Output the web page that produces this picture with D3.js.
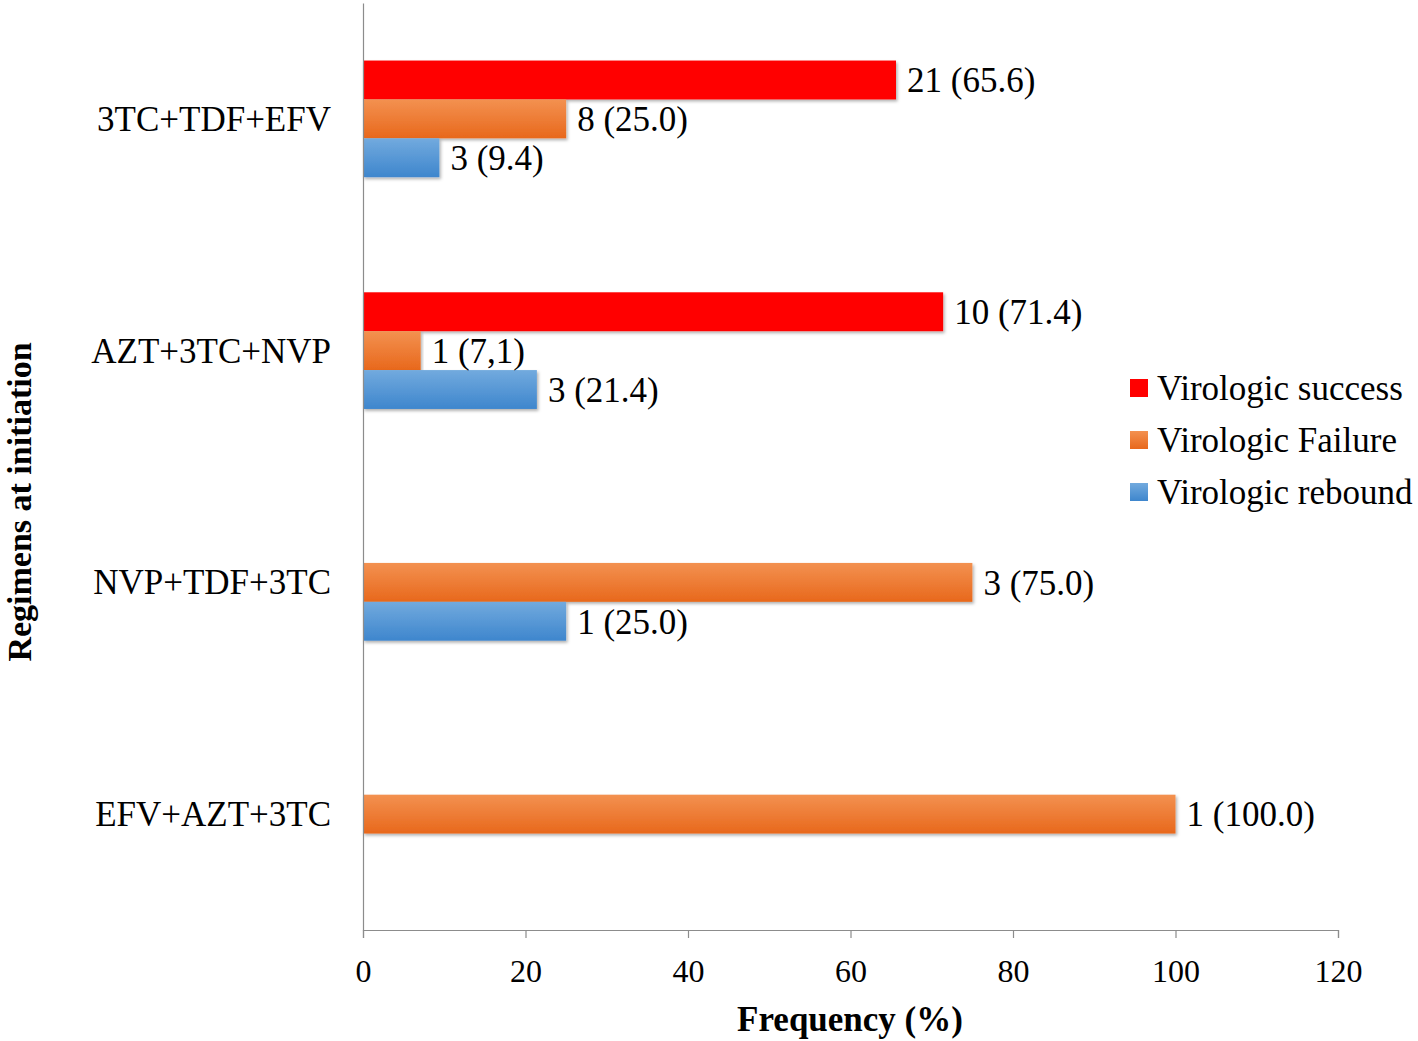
<!DOCTYPE html>
<html><head><meta charset="utf-8">
<script src="https://cdn.jsdelivr.net/npm/d3@7"></script>
<style>body{margin:0;background:#fff}svg{display:block}</style>
</head><body>
<script>
const categories = ["3TC+TDF+EFV", "AZT+3TC+NVP", "NVP+TDF+3TC", "EFV+AZT+3TC"];
const seriesNames = ["Virologic success", "Virologic Failure", "Virologic rebound"];
const successPct = [65.6, 71.4, null, null];
const failurePct = [25.0, 7.1, 75.0, 100.0];
const reboundPct = [9.4, 21.4, 25.0, null];
const successLabels = ["21 (65.6)", "10 (71.4)", null, null];
const failureLabels = ["8 (25.0)", "1 (7,1)", "3 (75.0)", "1 (100.0)"];
const reboundLabels = ["3 (9.4)", "3 (21.4)", "1 (25.0)", null];
const xTicks = [0, 20, 40, 60, 80, 100, 120];

const W = 1418, H = 1041;
const m = {left: 363, right: 80, top: 3, bottom: 111};
const svg = d3.select("body").append("svg").attr("width", W).attr("height", H);
const font = "'Liberation Serif', 'Times New Roman', serif";

const defs = svg.append("defs");
const grads = [["g0", "#ff0000", "#ff0000"], ["g1", "#f39150", "#e8681c"], ["g2", "#72aade", "#3e86cd"]];
grads.forEach(([id, a, b]) => {
  const g = defs.append("linearGradient").attr("id", id).attr("x1", 0).attr("y1", 0).attr("x2", 0).attr("y2", 1);
  g.append("stop").attr("offset", "0%").attr("stop-color", a);
  g.append("stop").attr("offset", "100%").attr("stop-color", b);
});
const f = defs.append("filter").attr("id", "sh").attr("x", "-5%").attr("y", "-20%").attr("width", "110%").attr("height", "150%");
f.append("feDropShadow").attr("dx", 1.5).attr("dy", 2).attr("stdDeviation", 1.5).attr("flood-color", "#000").attr("flood-opacity", 0.3);

const x = d3.scaleLinear().domain([0, 120]).range([m.left, W - m.right]);
const y0 = d3.scaleBand().domain(categories).range([m.top, H - m.bottom]).paddingInner(0).paddingOuter(0);
const y1 = d3.scaleBand().domain(seriesNames).range([0, y0.bandwidth()]).paddingInner(0).paddingOuter(1.48);

const series = [
  {name: seriesNames[0], vals: successPct, labels: successLabels, fill: "url(#g0)"},
  {name: seriesNames[1], vals: failurePct, labels: failureLabels, fill: "url(#g1)"},
  {name: seriesNames[2], vals: reboundPct, labels: reboundLabels, fill: "url(#g2)"}
];

const rows = [];
series.forEach(s => categories.forEach((c, i) => {
  if (s.vals[i] != null) rows.push({c, s: s.name, v: s.vals[i], label: s.labels[i], fill: s.fill});
}));

svg.append("g").selectAll("rect").data(rows).join("rect")
  .attr("x", x(0)).attr("y", d => y0(d.c) + y1(d.s))
  .attr("width", d => x(d.v) - x(0)).attr("height", y1.bandwidth())
  .attr("fill", d => d.fill).attr("filter", "url(#sh)");

svg.append("g").selectAll("text").data(rows).join("text")
  .attr("x", d => x(d.v) + 11).attr("y", d => y0(d.c) + y1(d.s) + y1.bandwidth() / 2)
  .attr("dy", "0.35em").attr("font-family", font).attr("font-size", 35).attr("fill", "#000")
  .text(d => d.label);

// x axis
const xa = svg.append("g").attr("transform", `translate(0,${H - m.bottom})`)
  .call(d3.axisBottom(x).tickValues(xTicks).tickSize(8).tickPadding(21).tickFormat(d3.format("d")));
xa.selectAll("path,line").attr("stroke", "#8c8c8c").attr("stroke-width", 1.2);
xa.selectAll("text").attr("font-family", font).attr("font-size", 32).attr("fill", "#000");

// y axis
const ya = svg.append("g").attr("transform", `translate(${m.left},0)`)
  .call(d3.axisLeft(y0).tickSize(0).tickPadding(32));
ya.select("path").attr("stroke", "#8c8c8c").attr("stroke-width", 1.2);
ya.selectAll("text").attr("font-family", font).attr("font-size", 35).attr("fill", "#000").attr("dy", "0.34em");

// axis titles
svg.append("text").attr("x", 850).attr("y", 1031).attr("text-anchor", "middle")
  .attr("font-family", font).attr("font-weight", "bold").attr("font-size", 35).text("Frequency (%)");
svg.append("text").attr("transform", "translate(31,502) rotate(-90)").attr("text-anchor", "middle")
  .attr("font-family", font).attr("font-weight", "bold").attr("font-size", 34).text("Regimens at initiation");

// legend
const lg = svg.append("g");
series.forEach((s, i) => {
  const yy = 388 + i * 52;
  lg.append("rect").attr("x", 1130).attr("y", yy - 9).attr("width", 18).attr("height", 18).attr("fill", s.fill);
  lg.append("text").attr("x", 1157).attr("y", yy).attr("dy", "0.35em")
    .attr("font-family", font).attr("font-size", 35).text(s.name);
});
</script>
</body></html>
